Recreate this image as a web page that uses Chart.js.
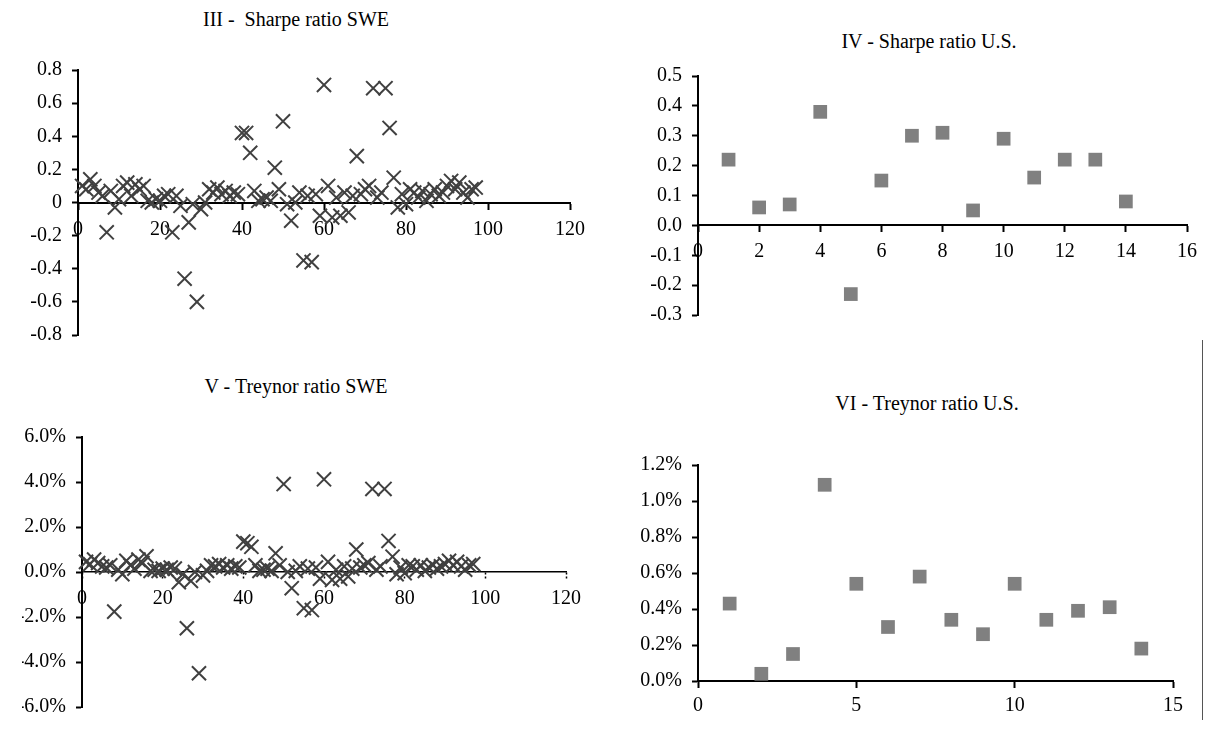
<!DOCTYPE html>
<html>
<head>
<meta charset="utf-8">
<script src="https://cdn.jsdelivr.net/npm/chart.js@4.4.1/dist/chart.umd.min.js"></script>
<style>
  body { margin: 0; background: #fff; width: 1206px; height: 729px; position: relative; overflow: hidden; font-family: "Liberation Serif", "Times New Roman", serif; }
  canvas { position: absolute; }
  .title { position: absolute; font-size: 20px; line-height: 20px; color: #000; white-space: nowrap; transform: translateX(-50%); }
  .edge { position: absolute; left: 1202px; top: 340px; width: 1px; height: 380px; background: #555; }
</style>
</head>
<body>
<div class="title" style="left:296px; top:9px;">III -&nbsp; Sharpe ratio SWE</div>
<div class="title" style="left:929px; top:31px;">IV - Sharpe ratio U.S.</div>
<div class="title" style="left:296px; top:376px;">V - Treynor ratio SWE</div>
<div class="title" style="left:927px; top:393px;">VI - Treynor ratio U.S.</div>
<div class="edge"></div>

<canvas id="c3" width="600" height="320" style="left:0px; top:40px;"></canvas>
<canvas id="c4" width="606" height="320" style="left:600px; top:40px;"></canvas>
<canvas id="c5" width="600" height="329" style="left:0px; top:400px;"></canvas>
<canvas id="c6" width="606" height="329" style="left:600px; top:400px;"></canvas>

<script>
// fund numbers (x values)
const sweFundNo = [1,2,3,4,5,6,7,8,9,10,11,12,13,14,15,16,17,18,19,20,
  21,22,23,24,25,26,27,28,29,30,31,32,33,34,35,36,37,38,39,40,
  41,42,43,44,45,46,47,48,49,50,51,52,53,54,55,56,57,58,59,60,
  61,62,63,64,65,66,67,68,69,70,71,72,73,74,75,76,77,78,79,80,
  81,82,83,84,85,86,87,88,89,90,91,92,93,94,95,96,97];
const usFundNo = [1,2,3,4,5,6,7,8,9,10,11,12,13,14];

// III - Sharpe ratio SWE
const sharpeSwe = [0.10,0.08,0.14,0.10,0.06,0.04,-0.18,0.07,-0.03,0.02,
  0.10,0.12,0.04,0.11,0.08,0.10,0.01,0.00,0.02,0.01,
  0.04,0.05,-0.18,0.04,-0.02,-0.46,-0.12,-0.01,-0.60,-0.04,
  0.00,0.08,0.06,0.09,0.05,0.07,0.04,0.06,0.05,0.42,
  0.42,0.30,0.07,0.01,0.02,0.03,0.01,0.21,0.08,0.49,
  -0.01,-0.11,0.00,0.06,-0.35,0.04,-0.36,0.05,-0.08,0.71,
  0.10,-0.09,0.03,-0.08,0.06,-0.06,0.04,0.28,0.05,0.08,
  0.10,0.69,0.03,0.06,0.69,0.45,0.15,-0.03,0.05,-0.01,
  0.08,0.06,0.03,0.07,0.01,0.05,0.08,0.04,0.06,0.10,
  0.13,0.08,0.12,0.06,0.03,0.08,0.09];

// IV - Sharpe ratio U.S.
const sharpeUs = [0.22,0.06,0.07,0.38,-0.23,0.15,0.30,0.31,0.05,0.29,0.16,0.22,0.22,0.08];

// V - Treynor ratio SWE (in %)
const treynorSwe = [0.45,0.35,0.55,0.40,0.25,0.20,0.30,-1.76,0.10,-0.10,
  0.50,0.30,0.15,0.55,0.40,0.70,0.05,0.10,0.05,0.15,
  0.10,0.20,0.15,-0.45,-0.10,-2.50,-0.40,0.00,-4.50,-0.15,
  0.05,0.30,0.25,0.35,0.20,0.30,0.15,0.25,0.20,1.35,
  1.28,1.12,0.30,0.05,0.10,0.15,0.05,0.83,0.30,3.91,
  0.00,-0.72,0.05,0.25,-1.61,0.15,-1.69,0.20,-0.30,4.12,
  0.45,-0.35,0.10,-0.30,0.25,-0.20,0.15,1.00,0.20,0.30,
  0.40,3.69,0.10,0.25,3.69,1.38,0.68,-0.10,0.20,-0.05,
  0.30,0.25,0.10,0.30,0.05,0.20,0.30,0.15,0.25,0.35,
  0.50,0.30,0.45,0.25,0.10,0.30,0.35];

// VI - Treynor ratio U.S. (in %)
const treynorUs = [0.43,0.04,0.15,1.09,0.54,0.30,0.58,0.34,0.26,0.54,0.34,0.39,0.41,0.18];

// tick labels
const sharpeSweYTicks = ['-0.8','-0.6','-0.4','-0.2','0','0.2','0.4','0.6','0.8'];
const sharpeSweXTicks = ['0','20','40','60','80','100','120'];
const sharpeUsYTicks = ['-0.3','-0.2','-0.1','0.0','0.1','0.2','0.3','0.4','0.5'];
const sharpeUsXTicks = ['0','2','4','6','8','10','12','14','16'];
const treynorSweYTicks = ['-6.0%','-4.0%','-2.0%','0.0%','2.0%','4.0%','6.0%'];
const treynorSweXTicks = ['0','20','40','60','80','100','120'];
const treynorUsYTicks = ['0.0%','0.2%','0.4%','0.6%','0.8%','1.0%','1.2%'];
const treynorUsXTicks = ['0','5','10','15'];

const tickFont = { family: '"Liberation Serif", "Times New Roman", serif', size: 20 };

function labelFrom(list, min, step) {
  return v => list[Math.round((v - min) / step)];
}

function panel(id, o) {
  const ds = {
    data: o.xs.map((x, i) => ({ x: x, y: o.ys[i] })),
    pointStyle: o.marker,
    clip: false
  };
  if (o.marker === 'crossRot') {
    Object.assign(ds, { pointRadius: 10, borderColor: '#404040', borderWidth: 2, backgroundColor: '#404040' });
  } else {
    Object.assign(ds, { pointRadius: 9.7, backgroundColor: '#808080', borderWidth: 0, borderColor: '#808080' });
  }
  const xDash = o.xDash || [];
  new Chart(document.getElementById(id), {
    type: 'scatter',
    data: { datasets: [ds] },
    options: {
      responsive: false,
      animation: false,
      events: [],
      layout: { padding: o.pad },
      plugins: { legend: { display: false }, tooltip: { enabled: false } },
      scales: {
        x: {
          type: 'linear',
          position: { y: 0 },
          min: o.xMin, max: o.xMax,
          afterFit: s => { s.height = 0; },
          ticks: { stepSize: o.xStep, autoSkip: false, maxRotation: 0, color: '#000', font: tickFont, padding: o.xPad || 8,
                   callback: labelFrom(o.xTicks, o.xMin, o.xStep) },
          grid: { drawOnChartArea: false, drawTicks: true, tickLength: 6, tickColor: '#000', tickWidth: o.xDash ? 1.5 : 2, tickBorderDash: xDash },
          border: { display: true, color: '#000', width: o.xDash ? 1.5 : 2, dash: xDash }
        },
        y: {
          type: 'linear',
          min: o.yMin, max: o.yMax,
          afterFit: s => { s.width = 60; },
          ticks: { stepSize: o.yStep, autoSkip: false, color: '#000', font: tickFont, padding: 10,
                   callback: labelFrom(o.yTicks, o.yMin, o.yStep) },
          grid: { drawOnChartArea: false, drawTicks: true, tickLength: 6, tickColor: '#000', tickWidth: 2 },
          border: { display: true, color: '#000', width: 2 }
        }
      }
    }
  });
}

panel('c3', { xs: sweFundNo, ys: sharpeSwe, marker: 'crossRot',
  xMin: 0, xMax: 120, xStep: 20, xTicks: sharpeSweXTicks, xPad: 9,
  yMin: -0.8, yMax: 0.8, yStep: 0.2, yTicks: sharpeSweYTicks,
  pad: { left: 18, top: 30, right: 30, bottom: 25 } });

panel('c4', { xs: usFundNo, ys: sharpeUs, marker: 'rect',
  xMin: 0, xMax: 16, xStep: 2, xTicks: sharpeUsXTicks,
  yMin: -0.3, yMax: 0.5, yStep: 0.1, yTicks: sharpeUsYTicks,
  pad: { left: 38, top: 36, right: 19, bottom: 45 } });

panel('c5', { xs: sweFundNo, ys: treynorSwe, marker: 'crossRot',
  xMin: 0, xMax: 120, xStep: 20, xTicks: treynorSweXTicks, xDash: [2, 2], xPad: 9,
  yMin: -6, yMax: 6, yStep: 2, yTicks: treynorSweYTicks,
  pad: { left: 22, top: 37, right: 34, bottom: 22 } });

panel('c6', { xs: usFundNo, ys: treynorUs, marker: 'rect',
  xMin: 0, xMax: 15, xStep: 5, xTicks: treynorUsXTicks, xPad: 7,
  yMin: 0, yMax: 1.2, yStep: 0.2, yTicks: treynorUsYTicks,
  pad: { left: 38, top: 65, right: 33, bottom: 48 } });
</script>
</body>
</html>
